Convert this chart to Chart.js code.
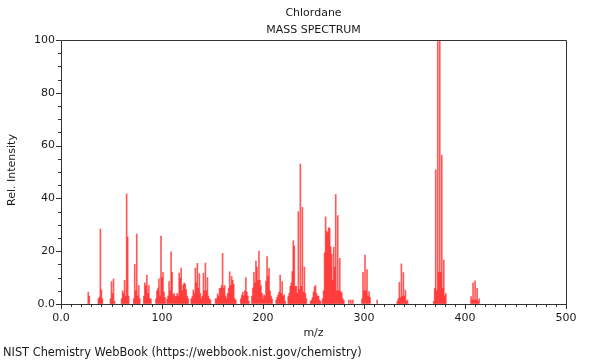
<!DOCTYPE html>
<html>
<head>
<meta charset="utf-8">
<script src="https://cdn.jsdelivr.net/npm/chart.js@4.4.0/dist/chart.umd.min.js"></script>
<style>
  html, body { margin: 0; padding: 0; background: #fff; }
</style>
</head>
<body>
<canvas id="spectrum" width="600" height="360"></canvas>
<script>
// m/z values and relative intensities
const massNumbers = [
  27, 28,
  37, 38, 39, 40, 41,
  49, 50, 51, 52, 53,
  60, 61, 62, 63, 64, 65, 66, 67,
  72, 73, 74, 75, 76, 77, 78,
  82, 83, 84, 85, 86, 87, 88, 89,
  94, 95, 96, 97, 98, 99, 100, 101, 102, 103,
  105, 106, 107, 108, 109, 110, 111, 112, 113, 114, 115,
  116, 117, 118, 119, 120, 121, 122, 123, 124, 125, 126,
  129, 130, 131, 132, 133, 134, 135, 136, 137, 138, 139,
  140, 141, 142, 143, 144, 145, 146, 147, 148,
  153, 154, 155, 156, 157, 158, 159, 160, 161, 162, 163, 164,
  165, 166, 167, 168, 169, 170, 171, 172, 173,
  178, 179, 180, 181, 182, 183, 184, 185, 186,
  189, 190, 191, 192, 193, 194, 195, 196, 197, 198, 199, 200,
  201, 202, 203, 204, 205, 206, 207, 208, 209,
  213, 214, 215, 216, 217, 218, 219, 220, 221, 222,
  225, 226, 227, 228, 229, 230, 231, 232, 233, 234, 235, 236, 237, 238, 239, 240, 241, 242, 243,
  247, 248, 249, 250, 251, 252, 253, 254, 255, 256, 257,
  259, 260, 261, 262, 263, 264, 265, 266, 267, 268, 269, 270, 271, 272, 273, 274, 275, 276, 277, 278, 279, 280,
  285, 287, 289,
  298, 299, 300, 301, 302, 303, 304, 305, 306,
  313,
  333, 334, 335, 336, 337, 338, 339, 340, 341, 342, 343,
  369, 370, 371, 372, 373, 374, 375, 376, 377, 378, 379, 380, 381,
  406, 407, 408, 409, 410, 411, 412, 413, 414
];
const relIntensity = [
  4.5, 3,
  2, 2.6, 28.4, 5.3, 2,
  2, 8.5, 4, 9.5, 1,
  2, 5, 4, 9, 3, 41.7, 25.4, 3,
  2, 15, 5, 26.5, 3, 7, 2,
  3, 8, 7, 11, 4, 7, 2, 2,
  2, 5, 6, 9.5, 3, 25.7, 10, 12, 4.5, 2.5,
  2, 3, 8.5, 5, 19.8, 12, 3.5, 4, 2.8, 3, 4,
  3, 11.7, 9.7, 13.6, 5, 7.2, 8, 7.5, 5.5, 3, 2,
  2, 2.8, 5.3, 4, 13.6, 8, 15.4, 6, 11.5, 4, 2,
  3, 11.7, 5, 15.5, 5, 10, 3, 2, 1.5,
  2, 2, 3.8, 3, 5.9, 6, 7, 19.2, 6, 7, 3, 2,
  4, 6, 12.2, 7, 10.4, 9, 7.5, 2, 1.5,
  2, 3.4, 4.5, 3, 5, 10, 4.5, 3, 1,
  3, 6, 12, 8, 16.3, 14, 9, 20, 9, 7, 4, 2,
  3.5, 3, 8.7, 18, 10.4, 13.5, 5, 3, 2,
  1.5, 2.5, 3.5, 4.5, 11, 4, 8.5, 3, 3.5, 1,
  2.8, 4, 6.7, 8, 12.3, 24, 22, 6.7, 6.7, 4, 35, 5.5, 53, 6.7, 36.6, 4.5, 14, 4, 2,
  1, 1.5, 2.5, 4.5, 6.5, 7, 4, 3, 3, 1.5, 1,
  2, 5, 19.4, 33, 27.6, 27, 28.9, 28.7, 21.7, 18.8, 9, 21.5, 14, 41.5, 5, 33.5, 5, 17.3, 4.7, 4.2, 2, 1.3,
  1.5, 1.5, 1.5,
  2, 12, 5, 18.5, 5, 13, 3, 4.7, 2.5,
  1.5,
  1, 2, 8.2, 2.5, 15.2, 3, 11.9, 3, 5.3, 1, 1.5,
  1, 6, 50.8, 5, 99.4, 12, 100, 12, 56.4, 6, 16.7, 3, 4,
  2.8, 1.5, 8, 1.5, 8.8, 1.5, 5.9, 1, 2
];
const xTickLabels = ['0.0', '100', '200', '300', '400', '500'];
const yTickLabels = ['0.0', '20', '40', '60', '80', '100'];
const chartTitle = 'Chlordane';
const chartSubtitle = 'MASS SPECTRUM';
const xAxisTitle = 'm/z';
const yAxisTitle = 'Rel. Intensity';
const footerText = 'NIST Chemistry WebBook (https://webbook.nist.gov/chemistry)';

const FONT = '11px "DejaVu Sans", sans-serif';
const TEXT = '#1a1a1a';

// frame, minor/major tick marks and the free texts
const framePlugin = {
  id: 'frame',
  afterDraw(chart) {
    const { ctx, chartArea: a, scales } = chart;
    const x = scales.x, y = scales.y;
    ctx.save();
    ctx.strokeStyle = '#333';
    ctx.lineWidth = 1;
    ctx.beginPath();
    ctx.rect(Math.round(a.left) + 0.5, Math.round(a.top) + 0.5,
      Math.round(a.right - a.left), Math.round(a.bottom - a.top));
    ctx.stroke();

    ctx.beginPath();
    for (let v = 0; v <= 500; v += 10) {
      const px = Math.round(x.getPixelForValue(v)) + 0.5;
      const len = v % 100 === 0 ? 5 : 3;
      ctx.moveTo(px, a.bottom);
      ctx.lineTo(px, a.bottom + len);
    }
    for (let v = 0; v <= 100; v += 5) {
      const py = Math.round(y.getPixelForValue(v)) + 0.5;
      const len = v % 20 === 0 ? 5 : 3;
      ctx.moveTo(a.left, py);
      ctx.lineTo(a.left - len, py);
    }
    ctx.stroke();

    ctx.fillStyle = TEXT;
    ctx.font = FONT;
    ctx.textBaseline = 'middle';
    ctx.textAlign = 'center';
    const cx = (a.left + a.right) / 2;
    ctx.fillText(chartTitle, cx, 13);
    ctx.fillText(chartSubtitle, cx, 30);
    ctx.fillText(xAxisTitle, cx, 333.5);
    ctx.textAlign = 'left';
    ctx.font = '11.4px "DejaVu Sans", sans-serif';
    ctx.fillText(footerText, 3, 353);
    ctx.font = FONT;
    ctx.translate(12, (a.top + a.bottom) / 2 - 2);
    ctx.rotate(-Math.PI / 2);
    ctx.textAlign = 'center';
    ctx.fillText(yAxisTitle, 0, 0);
    ctx.restore();
  }
};

new Chart(document.getElementById('spectrum'), {
  type: 'bar',
  data: {
    datasets: [{
      data: massNumbers.map((m, i) => ({ x: m, y: relIntensity[i] })),
      backgroundColor: 'rgba(255, 20, 20, 0.7)',
      borderWidth: 0,
      barThickness: 1,
      grouped: false
    }]
  },
  options: {
    responsive: false,
    animation: false,
    layout: { padding: { top: 40, right: 34, bottom: 0, left: 0 } },
    plugins: {
      legend: { display: false },
      tooltip: { enabled: false }
    },
    scales: {
      x: {
        type: 'linear',
        min: 0,
        max: 500,
        offset: false,
        grid: { display: true, drawOnChartArea: false, tickLength: 5, color: 'rgba(0,0,0,0)', offset: false },
        border: { display: false },
        ticks: {
          stepSize: 100,
          padding: 3,
          color: TEXT,
          maxRotation: 0,
          autoSkip: false,
          font: { family: '"DejaVu Sans", sans-serif', size: 11 },
          callback: (v, i) => xTickLabels[i]
        },
        afterFit: s => { s.height = 56; }
      },
      y: {
        min: 0,
        max: 100,
        grid: { display: true, drawOnChartArea: false, tickLength: 5, color: 'rgba(0,0,0,0)' },
        border: { display: false },
        ticks: {
          stepSize: 20,
          padding: 1,
          color: TEXT,
          font: { family: '"DejaVu Sans", sans-serif', size: 11 },
          callback: (v, i) => yTickLabels[i]
        },
        afterFit: s => { s.width = 61; }
      }
    }
  },
  plugins: [framePlugin]
});
</script>
</body>
</html>
